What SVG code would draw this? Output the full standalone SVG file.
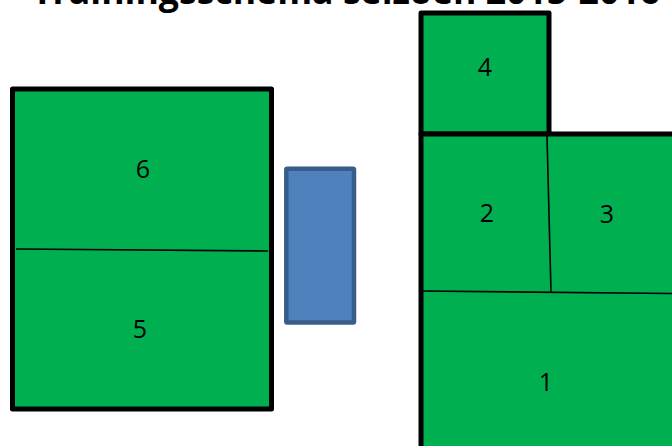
<svg xmlns="http://www.w3.org/2000/svg" width="672" height="446" viewBox="0 0 672 446">
<style>
.field{fill:#00b050;stroke:#000;stroke-width:5;stroke-linejoin:round}
.div{stroke:#000;stroke-width:1.6;fill:none}
.lbl{font-family:"Open Sans","Liberation Sans",sans-serif;font-size:25px;fill:#000;text-anchor:middle}
.title{font-family:"Open Sans","Liberation Sans",sans-serif;font-weight:bold;font-size:36px;fill:#000}
</style>
<rect width="672" height="446" fill="#fff"/>
<text class="title" x="32" y="4" textLength="628" lengthAdjust="spacingAndGlyphs">Trainingsschema seizoen 2015-2016</text>
<g id="field-left">
<rect class="field" x="12.5" y="89" width="259" height="320"/>
<line class="div" x1="16" y1="249" x2="268" y2="251"/>
</g>
<g id="field-6"><text class="lbl" x="143" y="178">6</text></g>
<g id="field-5"><text class="lbl" x="140" y="338">5</text></g>
<g id="building">
<rect x="286.3" y="168.7" width="67.7" height="153.8" rx="1" fill="#4f81bd" stroke="#385d8a" stroke-width="4.5"/>
</g>
<g id="field-4">
<rect class="field" x="421" y="13" width="128" height="121"/>
<text class="lbl" x="485" y="76">4</text>
</g>
<g id="field-right">
<path class="field" d="M421,460 L421,134 L549,134 L690,134 L690,460 Z"/>
<line class="div" x1="547" y1="136" x2="551" y2="292"/>
<line class="div" x1="423" y1="291" x2="672" y2="293.5"/>
</g>
<g id="field-2"><text class="lbl" x="487" y="222">2</text></g>
<g id="field-3"><text class="lbl" x="607" y="223">3</text></g>
<g id="field-1"><text class="lbl" x="546" y="391">1</text></g>
<g id="connectors"></g>
</svg>
